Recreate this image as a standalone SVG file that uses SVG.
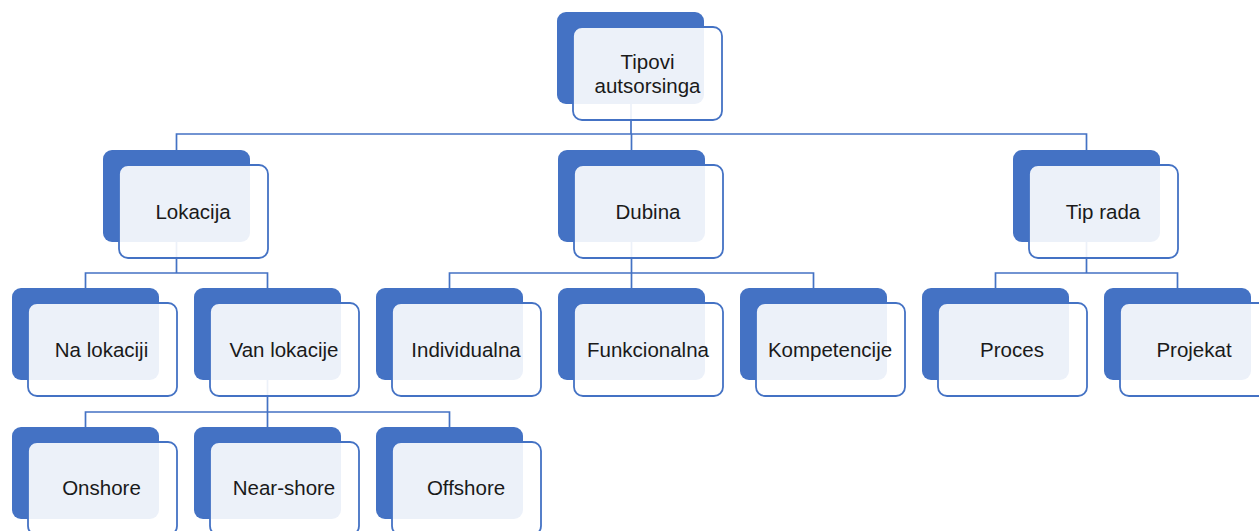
<svg xmlns="http://www.w3.org/2000/svg" width="1259" height="531" viewBox="0 0 1259 531">
  <style>
    .back { fill: #4472C4; }
    .front { fill: #FFFFFF; fill-opacity: 0.9; stroke: #4472C4; stroke-width: 1.8; }
    .lbl { font-family: "Liberation Sans", Arial, sans-serif; font-size: 20.5px; fill: #1A1A1A; text-anchor: middle; }
    .wire { fill: none; stroke: #4472C4; stroke-width: 1.7; }
  </style>
  <rect width="1259" height="531" fill="#FFFFFF"/>

  <!-- tree connectors -->
  <g id="connectors" class="wire">
    <path d="M631 104 V134 M176.5 150 V134 H1086.5 V150 M631.5 134 V150"/>
    <path d="M176.5 242 V273 M85.5 288 V273 H267.5 V288"/>
    <path d="M631.5 242 V273 M449.5 288 V273 H813.5 V288 M631.5 273 V288"/>
    <path d="M1086.5 242 V273 M995.5 288 V273 H1177.5 V288"/>
    <path d="M267.5 380 V412 M85.5 427 V412 H449.5 V427 M267.5 412 V427"/>
  </g>

  <!-- root -->
  <g id="node-tipovi">
    <rect class="back" x="557" y="12" width="147" height="92" rx="9"/>
    <rect class="front" x="573" y="27" width="149" height="93" rx="9"/>
    <text class="lbl" x="647.5" y="69">Tipovi</text>
    <text class="lbl" x="647.5" y="93">autsorsinga</text>
  </g>

  <!-- level 1 -->
  <g id="node-lokacija">
    <rect class="back" x="103" y="150" width="147" height="92" rx="9"/>
    <rect class="front" x="119" y="165" width="149" height="93" rx="9"/>
    <text class="lbl" x="193" y="218.5">Lokacija</text>
  </g>
  <g id="node-dubina">
    <rect class="back" x="558" y="150" width="147" height="92" rx="9"/>
    <rect class="front" x="574" y="165" width="149" height="93" rx="9"/>
    <text class="lbl" x="648" y="218.5">Dubina</text>
  </g>
  <g id="node-tip-rada">
    <rect class="back" x="1013" y="150" width="147" height="92" rx="9"/>
    <rect class="front" x="1029" y="165" width="149" height="93" rx="9"/>
    <text class="lbl" x="1103" y="218.5">Tip rada</text>
  </g>

  <!-- level 2 -->
  <g id="node-na-lokaciji">
    <rect class="back" x="12" y="288" width="147" height="92" rx="9"/>
    <rect class="front" x="28" y="303" width="149" height="93" rx="9"/>
    <text class="lbl" x="101.5" y="356.5">Na lokaciji</text>
  </g>
  <g id="node-van-lokacije">
    <rect class="back" x="194" y="288" width="147" height="92" rx="9"/>
    <rect class="front" x="210" y="303" width="149" height="93" rx="9"/>
    <text class="lbl" x="284" y="356.5">Van lokacije</text>
  </g>
  <g id="node-individualna">
    <rect class="back" x="376" y="288" width="147" height="92" rx="9"/>
    <rect class="front" x="392" y="303" width="149" height="93" rx="9"/>
    <text class="lbl" x="466" y="356.5">Individualna</text>
  </g>
  <g id="node-funkcionalna">
    <rect class="back" x="558" y="288" width="147" height="92" rx="9"/>
    <rect class="front" x="574" y="303" width="149" height="93" rx="9"/>
    <text class="lbl" x="648" y="356.5">Funkcionalna</text>
  </g>
  <g id="node-kompetencije">
    <rect class="back" x="740" y="288" width="147" height="92" rx="9"/>
    <rect class="front" x="756" y="303" width="149" height="93" rx="9"/>
    <text class="lbl" x="830" y="356.5">Kompetencije</text>
  </g>
  <g id="node-proces">
    <rect class="back" x="922" y="288" width="147" height="92" rx="9"/>
    <rect class="front" x="938" y="303" width="149" height="93" rx="9"/>
    <text class="lbl" x="1012" y="356.5">Proces</text>
  </g>
  <g id="node-projekat">
    <rect class="back" x="1104" y="288" width="147" height="92" rx="9"/>
    <rect class="front" x="1120" y="303" width="149" height="93" rx="9"/>
    <text class="lbl" x="1194" y="356.5">Projekat</text>
  </g>

  <!-- level 3 -->
  <g id="node-onshore">
    <rect class="back" x="12" y="427" width="147" height="92" rx="9"/>
    <rect class="front" x="28" y="442" width="149" height="93" rx="9"/>
    <text class="lbl" x="101.5" y="494.5">Onshore</text>
  </g>
  <g id="node-near-shore">
    <rect class="back" x="194" y="427" width="147" height="92" rx="9"/>
    <rect class="front" x="210" y="442" width="149" height="93" rx="9"/>
    <text class="lbl" x="284" y="494.5">Near-shore</text>
  </g>
  <g id="node-offshore">
    <rect class="back" x="376" y="427" width="147" height="92" rx="9"/>
    <rect class="front" x="392" y="442" width="149" height="93" rx="9"/>
    <text class="lbl" x="466" y="494.5">Offshore</text>
  </g>
</svg>
